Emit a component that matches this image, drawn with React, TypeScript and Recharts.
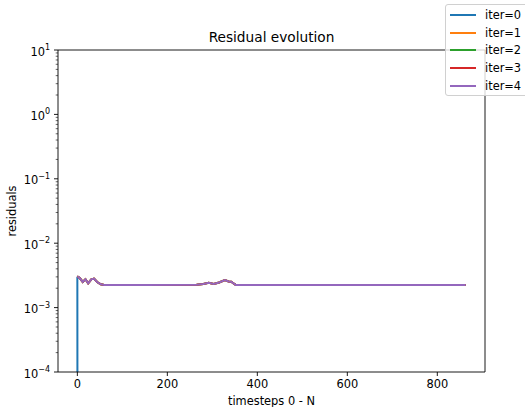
import React from 'react';
import { LineChart, Line, XAxis, YAxis, Legend, ReferenceLine } from 'recharts';

// ---- data ----
const timesteps = [0, 1, 5, 12, 18, 24, 31, 37, 44, 52, 60, 150, 265, 280, 292, 303, 315, 328, 336, 342, 348, 352, 500, 700, 863];
const residualsIter0 = [3.0e-3, 1e-12, 1e-12, 1e-12, 1e-12, 1e-12, 1e-12, 1e-12, 1e-12, 1e-12, 1e-12, 1e-12, 1e-12, 1e-12, 1e-12, 1e-12, 1e-12, 1e-12, 1e-12, 1e-12, 1e-12, 1e-12, 1e-12, 1e-12, 1e-12];
const residualsIter1 = [3.0e-3, 3.0e-3, 2.9e-3, 2.5e-3, 2.75e-3, 2.38e-3, 2.75e-3, 2.82e-3, 2.5e-3, 2.3e-3, 2.25e-3, 2.25e-3, 2.26e-3, 2.32e-3, 2.42e-3, 2.33e-3, 2.45e-3, 2.68e-3, 2.55e-3, 2.52e-3, 2.35e-3, 2.25e-3, 2.25e-3, 2.25e-3, 2.25e-3];
const residualsIter2 = residualsIter1;
const residualsIter3 = residualsIter1;
const residualsIter4 = residualsIter1;
const seriesNames = ['iter=0', 'iter=1', 'iter=2', 'iter=3', 'iter=4'];
const seriesColors = ['#1f77b4', '#ff7f0e', '#2ca02c', '#d62728', '#9467bd'];
const xTicks = [0, 200, 400, 600, 800];
const xDomain = [-43, 906];
const yDomain = [1e-4, 10];
const yMajorExps = [-4, -3, -2, -1, 0, 1];

const seriesValues = [residualsIter0, residualsIter1, residualsIter2, residualsIter3, residualsIter4];
const data = timesteps.map((t, i) => {
  const row: Record<string, number> = { t };
  seriesValues.forEach((vals, k) => {
    row[`s${k}`] = vals[i];
  });
  return row;
});

const yTicks: number[] = [];
yMajorExps.forEach((e) => {
  yTicks.push(Math.pow(10, e));
  if (e < 1) {
    for (let m = 2; m <= 9; m++) yTicks.push(m * Math.pow(10, e));
  }
});

const FONT = '"DejaVu Sans", sans-serif';
const AXIS_COLOR = '#000';

const YTick = (props: any) => {
  const { x, y, payload } = props;
  const v = payload.value;
  const lg = Math.log10(v);
  const exp = Math.round(lg);
  const isMajor = Math.abs(lg - exp) < 1e-6;
  if (!isMajor) {
    return <line x1={x - 2.3} x2={x} y1={y} y2={y} stroke={AXIS_COLOR} strokeWidth={0.6} />;
  }
  const expStr = exp < 0 ? `\u2212${-exp}` : `${exp}`;
  return (
    <g>
      <line x1={x - 4} x2={x} y1={y} y2={y} stroke={AXIS_COLOR} strokeWidth={0.9} />
      <text x={x - 8} y={y + 5.5} textAnchor="end" fontFamily={FONT} fontSize={11.4} fill="#000">
        <tspan>10</tspan>
        <tspan fontSize={8} dy={-5.5}>{expStr}</tspan>
      </text>
    </g>
  );
};

const renderLegend = () => (
  <div
    style={{
      border: '1px solid #d0d0d0',
      borderRadius: 3,
      background: 'rgba(255,255,255,0.8)',
      padding: '1px 6px 1px 4px',
      fontFamily: FONT,
      fontSize: 11.4,
      color: '#000',
      whiteSpace: 'nowrap',
    }}
  >
    {seriesNames.map((name, i) => (
      <div key={name} style={{ height: 17.7, display: 'flex', alignItems: 'center' }}>
        <span style={{ display: 'inline-block', width: 26, height: 2, background: seriesColors[i], marginRight: 9 }} />
        <span>{name}</span>
      </div>
    ))}
  </div>
);

export default function App() {
  return (
    <div style={{ position: 'absolute', left: 0, top: 0, width: 525, height: 407, background: '#fff', overflow: 'hidden' }}>
      <div
        style={{
          position: 'absolute',
          left: 58,
          width: 427,
          top: 29,
          textAlign: 'center',
          fontFamily: FONT,
          fontSize: 13.7,
          color: '#000',
          lineHeight: '16px',
        }}
      >
        Residual evolution
      </div>
      <LineChart width={525} height={407} data={data} margin={{ top: 50, right: 40, left: 0, bottom: 0 }}>
        <XAxis
          dataKey="t"
          type="number"
          domain={xDomain}
          ticks={xTicks}
          allowDataOverflow
          stroke={AXIS_COLOR}
          tickSize={4}
          tickMargin={4}
          height={35}
          tick={{ fontFamily: FONT, fontSize: 11.4, fill: '#000' }}
          tickLine={{ stroke: AXIS_COLOR, strokeWidth: 0.9 }}
          axisLine={{ stroke: AXIS_COLOR, strokeWidth: 0.9 }}
          label={(p: any) => {
            const vb = p.viewBox;
            return (
              <text x={vb.x + vb.width / 2} y={vb.y + 33} textAnchor="middle" fontFamily={FONT} fontSize={11.4} fill="#000">
                timesteps 0 - N
              </text>
            );
          }}
        />
        <YAxis
          scale="log"
          domain={yDomain}
          allowDataOverflow
          ticks={yTicks}
          interval={0}
          width={58}
          tickSize={0}
          tickMargin={0}
          tickLine={false}
          tick={<YTick />}
          axisLine={{ stroke: AXIS_COLOR, strokeWidth: 0.9 }}
          label={(p: any) => {
            const vb = p.viewBox;
            const cx = vb.x + 16;
            const cy = vb.y + vb.height / 2;
            return (
              <text x={cx} y={cy} transform={`rotate(-90 ${cx} ${cy})`} textAnchor="middle" fontFamily={FONT} fontSize={11.4} fill="#000">
                residuals
              </text>
            );
          }}
        />
        <ReferenceLine y={yDomain[1]} stroke={AXIS_COLOR} strokeWidth={0.9} ifOverflow="visible" />
        <ReferenceLine x={xDomain[1]} stroke={AXIS_COLOR} strokeWidth={0.9} ifOverflow="visible" />
        {seriesNames.map((name, k) => (
          <Line
            key={name}
            name={name}
            dataKey={`s${k}`}
            type="linear"
            stroke={seriesColors[k]}
            strokeWidth={2}
            dot={false}
            activeDot={false}
            isAnimationActive={false}
          />
        ))}
        <Legend
          layout="horizontal"
          verticalAlign="middle"
          align="center"
          content={renderLegend}
          wrapperStyle={{ position: 'absolute', left: 445, top: 4, width: 'auto' }}
        />
      </LineChart>
    </div>
  );
}
